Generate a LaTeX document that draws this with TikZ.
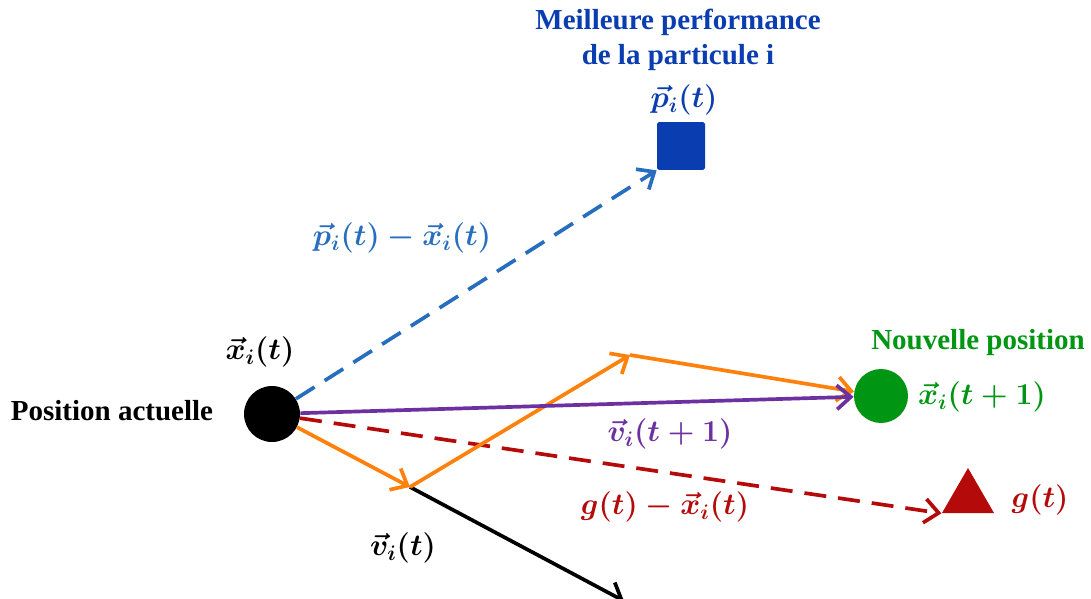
\documentclass[tikz,border=0pt]{standalone}
\usepackage{amsmath}
\usepackage{fontspec}
\setmainfont{Liberation Serif}
\usetikzlibrary{arrows.meta,shapes.geometric}
\definecolor{psoblue}{RGB}{10,62,176}
\definecolor{psodash}{RGB}{40,110,190}
\definecolor{psogreen}{RGB}{0,150,20}
\definecolor{psored}{RGB}{180,10,10}
\definecolor{psopurple}{RGB}{108,48,160}
\definecolor{psoorange}{RGB}{255,128,10}
\tikzset{
  txt/.style={font=\fontsize{16.5}{19.5}\selectfont\bfseries, inner sep=1pt},
  mth/.style={font=\fontsize{18}{21}\selectfont\boldmath, inner sep=1pt},
  vec/.style={line width=2.1pt, -{Straight Barb[length=2.8mm,width=4.8mm]}},
  dsh/.style={vec, dash pattern=on 0.44cm off 0.24cm},
}
\begin{document}
\begin{tikzpicture}[x=0.02cm, y=-0.02cm]
  \useasboundingbox (0,0) rectangle (1091,598);
  \clip (0,0) rectangle (1091,598);
  % points
  \node[circle,fill=black,minimum size=1.12cm,inner sep=0] (xi) at (272,414) {};
  \node[fill=psoblue,minimum size=0.96cm,inner sep=0,rounded corners=1pt] (pbest) at (681,146) {};
  \node[circle,fill=psogreen,minimum size=1.08cm,inner sep=0] (xnew) at (881,396) {};
  \node[regular polygon,regular polygon sides=3,fill=psored,minimum size=1.2cm,inner sep=0] (gbest) at (968,498) {};
  \coordinate (v1) at (410,487);
  \coordinate (v2) at (630,355);
  \coordinate (vend) at (624,601);
  % labels
  \node[txt] (pos) at (112,411) {Position actuelle};
  \node[mth] (xilbl) at (260,352) {$\vec{x}_i(t)$};
  \node[txt,psoblue,align=center] (best) at (678,40) {Meilleure performance\\de la particule i};
  \node[mth,psoblue] (pilbl) at (684,100) {$\vec{p}_i(t)$};
  \node[txt,psogreen] (newpos) at (978,343) {Nouvelle position};
  \node[mth,psogreen] (xnewlbl) at (982,397) {$\vec{x}_i(t+1)$};
  \node[mth,psored] (glbl) at (1040,500) {$g(t)$};
  \node[mth,psodash] (dplbl) at (402,238) {$\vec{p}_i(t)-\vec{x}_i(t)$};
  \node[mth,psopurple] (vnewlbl) at (670,434) {$\vec{v}_i(t+1)$};
  \node[mth,psored] (dglbl) at (665,507) {$g(t)-\vec{x}_i(t)$};
  \node[mth] (vilbl) at (403,548) {$\vec{v}_i(t)$};
  % vectors
  \draw[vec,black] (v1) -- (vend);
  \draw[dsh,psodash] (xi) -- (pbest.south west);
  \draw[dsh,psored] (xi) -- (gbest.corner 2);
  \draw[vec,psoorange] (xi) -- (v1);
  \draw[vec,psoorange] (v1) -- (v2);
  \draw[vec,psoorange] (v2) -- (xnew);
  \draw[vec,psopurple] (xi) -- (xnew);
\end{tikzpicture}
\end{document}
